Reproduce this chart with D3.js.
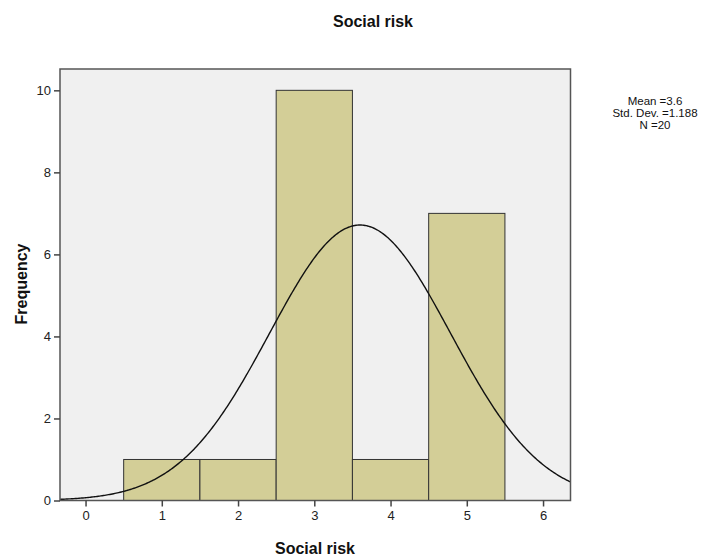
<!DOCTYPE html>
<html>
<head>
<meta charset="utf-8">
<script src="https://cdn.jsdelivr.net/npm/d3@7"></script>
<style>
  body { margin: 0; background: #fff; }
  text { font-family: "Liberation Sans", Arial, sans-serif; }
</style>
</head>
<body>
<svg id="chart" width="712" height="557"></svg>
<script>
// Histogram bins (lower edge, upper edge) and their counts
const binStarts = [0.5, 1.5, 2.5, 3.5, 4.5];
const binEnds   = [1.5, 2.5, 3.5, 4.5, 5.5];
const counts    = [1, 1, 10, 1, 7];
const xTicks = [0, 1, 2, 3, 4, 5, 6];
const yTicks = [0, 2, 4, 6, 8, 10];
const stats = { mean: 3.6, sd: 1.188, n: 20 };
const statLines = ["Mean =3.6", "Std. Dev. =1.188", "N =20"];

const svg = d3.select("#chart");
const plotL = 60, plotR = 570.5, plotT = 69, plotB = 500.5;

const x = d3.scaleLinear().domain([-0.335, 6.36]).range([plotL, plotR]);
const y = d3.scaleLinear().domain([0, 10.52]).range([plotB, plotT]);

// plot background
svg.append("rect")
  .attr("x", plotL).attr("y", plotT)
  .attr("width", plotR - plotL).attr("height", plotB - plotT)
  .attr("fill", "#f0f0f0");

// bars
svg.append("g").selectAll("rect")
  .data(counts)
  .join("rect")
  .attr("x", (d, i) => x(binStarts[i]))
  .attr("y", d => y(d))
  .attr("width", (d, i) => x(binEnds[i]) - x(binStarts[i]))
  .attr("height", d => y(0) - y(d))
  .attr("fill", "#d3ce97")
  .attr("stroke", "#333")
  .attr("stroke-width", 1);

// normal curve scaled to counts (bin width 1)
const binWidth = 1;
const pdf = v => stats.n * binWidth * Math.exp(-0.5 * ((v - stats.mean) / stats.sd) ** 2) / (stats.sd * Math.sqrt(2 * Math.PI));
const xs = d3.range(0, 401).map(i => x.domain()[0] + (x.domain()[1] - x.domain()[0]) * i / 400);
svg.append("path")
  .datum(xs)
  .attr("fill", "none")
  .attr("stroke", "#111")
  .attr("stroke-width", 1.4)
  .attr("d", d3.line().x(v => x(v)).y(v => y(pdf(v))));

// frame
svg.append("rect")
  .attr("x", plotL).attr("y", plotT)
  .attr("width", plotR - plotL).attr("height", plotB - plotT)
  .attr("fill", "none")
  .attr("stroke", "#555")
  .attr("stroke-width", 1.5);

// axes
const xAxis = d3.axisBottom(x).tickValues(xTicks).tickFormat(d3.format("d")).tickSize(6).tickPadding(4);
const gx = svg.append("g").attr("transform", `translate(0,${plotB})`).call(xAxis);
gx.select(".domain").remove();
gx.selectAll("line").attr("stroke", "#444").attr("stroke-width", 1.5);
gx.selectAll("text").attr("font-size", 13).attr("fill", "#222");

const yAxis = d3.axisLeft(y).tickValues(yTicks).tickFormat(d3.format("d")).tickSize(6).tickPadding(3);
const gy = svg.append("g").attr("transform", `translate(${plotL},0)`).call(yAxis);
gy.select(".domain").remove();
gy.selectAll("line").attr("stroke", "#444").attr("stroke-width", 1.5);
gy.selectAll("text").attr("font-size", 13).attr("fill", "#222");

// titles
svg.append("text").attr("x", 373).attr("y", 27)
  .attr("text-anchor", "middle").attr("font-size", 16).attr("font-weight", "bold")
  .attr("fill", "#111").text("Social risk");
svg.append("text").attr("x", 315).attr("y", 554)
  .attr("text-anchor", "middle").attr("font-size", 16).attr("font-weight", "bold")
  .attr("fill", "#111").text("Social risk");
svg.append("text")
  .attr("transform", "translate(27,284) rotate(-90)")
  .attr("text-anchor", "middle").attr("font-size", 16).attr("font-weight", "bold")
  .attr("fill", "#111").text("Frequency");

// summary statistics
svg.append("g").selectAll("text")
  .data(statLines)
  .join("text")
  .attr("x", 655).attr("y", (d, i) => 105 + i * 12)
  .attr("text-anchor", "middle").attr("font-size", 11.5).attr("fill", "#111")
  .text(d => d);
</script>
</body>
</html>
